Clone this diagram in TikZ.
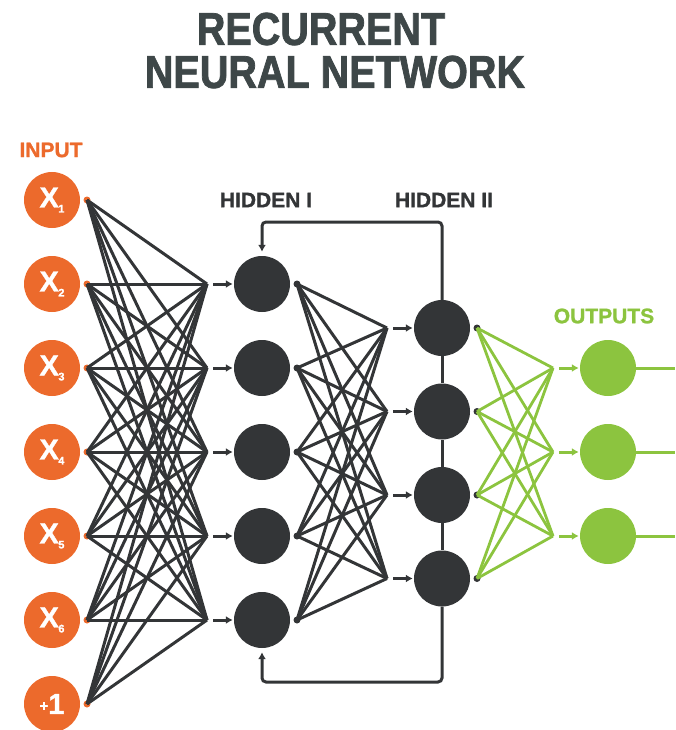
\documentclass[tikz,border=0pt]{standalone}
\usepackage{fontspec}
\setmainfont{Liberation Sans}
\newfontfamily\titlefont[FakeStretch=0.86,FakeBold=1.6]{Liberation Sans Bold}
\newfontfamily\heavyfont[FakeBold=1.2]{Liberation Sans Bold}
\usetikzlibrary{arrows.meta}
\definecolor{rnnorange}{HTML}{EC6A2C}
\definecolor{rnndark}{HTML}{333537}
\definecolor{rnngreen}{HTML}{8CC43F}
\definecolor{rnntitle}{HTML}{3E4748}
\newcommand{\xin}[1]{\heavyfont\fontsize{29}{29}\selectfont X\kern-0.5pt\raisebox{-5pt}{\fontsize{11}{11}\selectfont #1}}
\begin{document}
\begin{tikzpicture}[x=1pt,y=-1pt,
  wire/.style={draw=rnndark, line width=3pt},
  gwire/.style={draw=rnngreen, line width=2.8pt},
  unit/.style={circle, minimum size=56pt, inner sep=0pt},
  dot/.style={circle, minimum size=7pt, inner sep=0pt},
  feed/.style={-{Latex[length=7pt,width=8pt]}, line width=3pt, shorten >=1pt},
  label/.style={inner sep=0pt, font=\heavyfont\fontsize{21}{21}\selectfont}]
\useasboundingbox (0,0) rectangle (675,730);
% title
\node[inner sep=0pt, text=rnntitle, font=\titlefont\fontsize{46}{46}\selectfont] (T1) at (321,29) {RECURRENT};
\node[inner sep=0pt, text=rnntitle, font=\titlefont\fontsize{46}{46}\selectfont] (T2) at (335,72) {NEURAL NETWORK};
% layer labels
\node[label, text=rnnorange] (Lin) at (51,150) {INPUT};
\node[label, text=rnndark] (Lh1) at (266,200) {HIDDEN I};
\node[label, text=rnndark] (Lh2) at (444,200) {HIDDEN II};
\node[label, text=rnngreen] (Lout) at (604,316) {OUTPUTS};
% input layer
\foreach \i in {1,...,6}
  \node[unit, fill=rnnorange, text=white] (in-\i) at (52,{200+84*(\i-1)}) {\xin{\i}};
\node[unit, fill=rnnorange, text=white] (in-7) at (52,704) {\heavyfont\raisebox{3pt}{\fontsize{15}{15}\selectfont +}\fontsize{29}{29}\selectfont 1};
\foreach \i in {1,...,7}
  \node[dot, fill=rnnorange] (ind-\i) at ([xshift=35pt]in-\i.center) {};
% hidden layer I
\foreach \j in {1,...,5} {
  \node[unit, fill=rnndark] (h1-\j) at (262,{284+84*(\j-1)}) {};
  \node[shape=coordinate] (h1c-\j) at ([xshift=-55pt]h1-\j.center) {};
  \node[dot, fill=rnndark] (h1d-\j) at ([xshift=35pt]h1-\j.center) {};
}
% hidden layer II
\foreach \k in {1,...,4} {
  \node[unit, fill=rnndark] (h2-\k) at (442,{328+83.5*(\k-1)}) {};
  \node[shape=coordinate] (h2c-\k) at ([xshift=-55pt]h2-\k.center) {};
  \node[dot, fill=rnndark] (h2d-\k) at ([xshift=35pt]h2-\k.center) {};
}
% output layer
\foreach \m in {1,...,3} {
  \node[unit, fill=rnngreen] (out-\m) at (608,{368+84*(\m-1)}) {};
  \node[shape=coordinate] (outc-\m) at ([xshift=-55pt]out-\m.center) {};
  \node[shape=coordinate] (oute-\m) at (675,{368+84*(\m-1)}) {};
}
% weights
\foreach \i in {1,...,7}
  \foreach \j in {1,...,5}
    \draw[wire] (ind-\i.center) -- (h1c-\j);
\foreach \j in {1,...,5}
  \foreach \k in {1,...,4}
    \draw[wire] (h1d-\j.center) -- (h2c-\k);
\foreach \k in {1,...,4}
  \foreach \m in {1,...,3}
    \draw[gwire] (h2d-\k.center) -- (outc-\m);
% feed arrows
\foreach \j in {1,...,5}
  \draw[feed, rnndark] ([xshift=6pt]h1c-\j) -- (h1-\j.west);
\foreach \k in {1,...,4}
  \draw[feed, rnndark] ([xshift=6pt]h2c-\k) -- (h2-\k.west);
\foreach \m in {1,...,3} {
  \draw[feed, rnngreen] ([xshift=6pt]outc-\m) -- (out-\m.west);
  \draw[gwire, line width=3pt] (out-\m) -- (oute-\m);
}
% recurrent links
\node[shape=coordinate] (loopT) at (442,222) {};
\node[shape=coordinate] (loopB) at (442,682) {};
\draw[wire] (h2-1) -- (h2-2);
\draw[wire] (h2-2) -- (h2-3);
\draw[wire] (h2-3) -- (h2-4);
\draw[wire, -{Latex[length=7pt,width=8pt]}, rounded corners=4pt, shorten >=4pt] (h2-1.north) -- (loopT) -| (h1-1.north);
\draw[wire, -{Latex[length=7pt,width=8pt]}, rounded corners=4pt, shorten >=4pt] (h2-4.south) -- (loopB) -| (h1-5.south);
\end{tikzpicture}
\end{document}
